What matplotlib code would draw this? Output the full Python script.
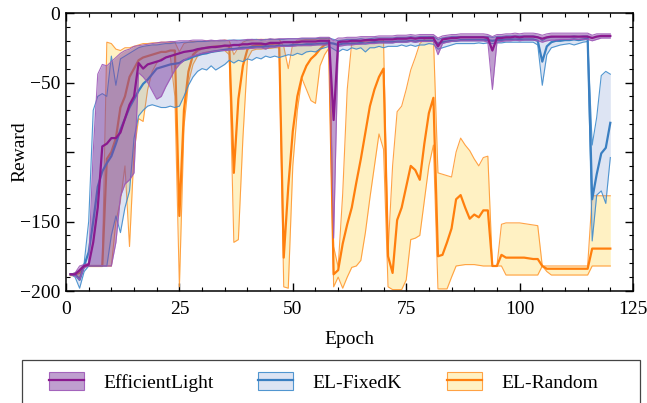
import numpy as np
import matplotlib
matplotlib.use("Agg")
import matplotlib.pyplot as plt
from matplotlib.patches import Patch, Rectangle
from matplotlib.lines import Line2D
from matplotlib.ticker import MultipleLocator, FixedLocator, FixedFormatter

plt.rcParams['font.family'] = ['Liberation Serif', 'DejaVu Serif']
plt.rcParams['font.size'] = 14

epochs = list(range(1, 121))

el_mean = [-188, -188, -185, -182, -181, -165, -140, -96, -94, -90,
           -90, -86, -76, -66, -60, -36, -40, -37, -36, -35,
           -34, -32, -31, -30, -29, -28, -27.5, -27, -26, -25.5,
           -25, -24.5, -24.5, -24, -23.5, -23.5, -23, -23, -22.5, -22.5,
           -22, -22, -22, -22.5, -21.5, -21.5, -21.5, -21, -21, -21,
           -21, -20.5, -20.5, -20.5, -20.5, -20, -20, -20, -77, -21,
           -20.5, -20.5, -20, -20, -20, -19.5, -19.5, -19.5, -19, -19,
           -19, -19, -18.5, -18.5, -18.5, -18, -18.5, -18, -18, -18,
           -18, -24, -19, -18.5, -18, -18, -17.5, -17.5, -17.5, -17.5,
           -17.5, -17.5, -18, -27, -18, -18, -17.5, -17.5, -17, -17.5,
           -17, -17, -17, -17.5, -18.5, -17.5, -17, -17, -17, -17,
           -17, -17, -17, -17, -17, -18, -17, -16.5, -16.5, -16.5]
el_lo = [-188, -189, -192, -183, -182, -182, -182, -182, -182, -182,
         -165, -132, -123, -120, -115, -43, -46, -50, -56, -62,
         -60, -53, -47, -41, -37, -34, -32, -31, -30, -29,
         -28.5, -28, -27.5, -27, -27, -26.5, -26.5, -26, -26, -25.5,
         -25.5, -25, -25, -26, -24.5, -24.5, -24, -24, -24, -24,
         -23.5, -23.5, -23.5, -23.5, -23, -23, -23, -23, -162, -24,
         -23.5, -23, -23, -22.5, -22.5, -22, -22, -22, -21.5, -21.5,
         -21.5, -21.5, -21, -21, -21, -20.5, -21, -20.5, -20.5, -20.5,
         -20.5, -30, -22, -21, -20.5, -20, -20, -20, -20, -20,
         -20, -20, -21, -55, -21, -20.5, -20, -20, -19.5, -20,
         -19.5, -19.5, -19.5, -20, -21, -20, -19.5, -19.5, -19, -19,
         -19, -19, -19, -19, -19, -20, -19, -18, -18, -18]
el_hi = [-188, -187, -182, -181, -180, -100, -44, -37, -38, -35,
         -32, -29, -27, -26, -24, -23.5, -23, -22.5, -22, -21.5,
         -21, -21, -20.5, -20.5, -20, -20, -20, -19.5, -19.5, -19.5,
         -20, -19.5, -20, -19.5, -19.5, -20, -19.5, -20, -19.5, -19,
         -19, -19.5, -19, -19.5, -18.5, -19, -18.5, -18.5, -18.5, -18.5,
         -18.5, -18, -18, -18, -18, -17.5, -17.5, -17.5, -20, -18,
         -18, -17.5, -17.5, -17.5, -17, -17, -17, -17, -16.5, -16.5,
         -16.5, -16.5, -16, -16, -16, -15.5, -16, -15.5, -15.5, -15.5,
         -15.5, -18, -16.5, -16, -15.5, -15.5, -15, -15, -15, -15,
         -15, -15, -15.5, -17, -15.5, -15.5, -15, -15, -14.5, -15,
         -14.5, -14.5, -14.5, -15, -16, -15, -14.5, -14.5, -14.5, -14.5,
         -14.5, -14.5, -14.5, -14.5, -14.5, -16, -15, -15, -15, -15]

fk_mean = [-188, -188, -192, -182, -172, -150, -125, -114, -108, -103,
           -94, -84, -76, -68, -62, -56, -51, -48, -44, -40,
           -39, -38, -37, -36.5, -36, -34, -33, -31.5, -30.5, -29.5,
           -29, -28, -27.5, -27, -26.5, -26, -26, -25.5, -25, -25,
           -24.5, -24.5, -24.5, -24, -24, -24, -23.5, -23.5, -23.5, -23,
           -23, -23, -22.5, -22.5, -22.5, -22, -22, -21.5, -22, -23,
           -22, -22, -22, -22, -21.5, -22, -21.5, -21, -21, -21,
           -21, -21, -20.5, -20.5, -20.5, -20, -20.5, -20, -20, -20,
           -20, -22, -21, -20.5, -20, -20, -19.5, -19.5, -19.5, -19.5,
           -19.5, -19.5, -19.5, -20, -19.5, -19.5, -19, -19, -19, -19,
           -19, -19, -19, -20, -35, -24, -21, -20, -20, -19.5,
           -19.5, -19, -19.5, -19, -18.5, -134, -116, -101, -97, -79]
fk_lo = [-188, -190, -198, -186, -182, -182, -182, -182, -182, -160,
         -146, -158, -140, -128, -90, -74, -70, -67, -66, -67,
         -68, -68, -67, -68, -67, -60, -52, -46, -42, -40,
         -41, -38, -41, -39, -37, -34, -36, -34, -35, -33,
         -34, -32, -33, -31, -32, -31, -32, -31, -30, -30.5,
         -29, -30, -28, -27.5, -28, -26, -25, -24, -26, -28,
         -26, -27, -25, -26, -25, -28, -25, -25, -24, -25,
         -24, -24, -24, -23, -24, -23, -24, -23, -23, -22,
         -22.5, -26, -25, -24, -23, -22, -22, -22, -22, -22,
         -21.5, -22, -21.5, -22, -21.5, -21.5, -21, -21, -21, -21,
         -21, -21, -21, -23, -52, -30, -25, -24, -23, -22.5,
         -22, -23, -22, -21, -20.5, -164, -131, -128, -137, -104]
fk_hi = [-188, -187, -186, -180, -150, -70, -60, -58, -60, -31,
         -52, -33, -31, -29, -27, -25, -24, -23.5, -23, -23,
         -22.5, -22, -22, -21.5, -21.5, -21, -21, -21, -20.5, -20.5,
         -20.5, -20, -20, -20, -20, -19.5, -19.5, -19.5, -19.5, -19.5,
         -19, -19, -19.5, -19, -19, -19, -19, -19, -18.5, -18.5,
         -18.5, -18.5, -18.5, -18.5, -18.5, -18, -18, -18, -19, -20,
         -19.5, -19, -19, -19, -18.5, -19, -18.5, -18, -18, -18,
         -18, -18, -17.5, -17.5, -17.5, -17, -17.5, -17, -17, -17,
         -17, -19, -18, -17.5, -17, -17, -17, -17, -17, -17,
         -17, -17, -17, -17.5, -17, -17, -16.5, -16.5, -16.5, -16.5,
         -16.5, -16.5, -16.5, -17, -20, -18, -17.5, -17, -17, -17,
         -17, -16.5, -17, -16.5, -16.5, -95, -75, -45, -42, -44]

rd_mean = [-188, -188, -187, -182, -182, -182, -182, -182, -105, -100,
           -90, -68, -60, -46, -40, -34, -32, -31, -30, -29,
           -28, -28, -27, -27, -146, -70, -42, -30, -27, -25.5,
           -25, -24.5, -24, -24, -23.5, -24, -115, -62, -38, -26,
           -24, -23, -23, -22.5, -22.5, -22, -22, -176, -125, -85,
           -60, -46, -38, -33, -30, -26, -23, -21, -188, -185,
           -166, -152, -140, -122, -105, -86, -67, -55, -46, -40,
           -175, -187, -149, -140, -125, -110, -113, -120, -94, -72,
           -61, -175, -174, -165, -155, -134, -131, -140, -148, -145,
           -147, -142, -142, -182, -182, -174, -176, -176, -176, -176,
           -176, -176.5, -177, -177, -182, -184, -184, -184, -184, -184,
           -184, -184, -184, -184, -184, -169.5, -169.5, -169.5, -169.5, -169.5]
rd_lo = [-189, -189, -190, -183, -182, -182, -182, -182, -182, -182,
         -150, -135, -110, -168, -100, -76, -78, -55, -42, -36,
         -33, -32, -31, -60, -197, -82, -50, -37, -31, -29,
         -28, -28, -27.5, -27, -27, -30, -165, -163, -90, -33,
         -27, -26, -26, -25.5, -25.5, -25, -25, -197, -198, -110,
         -70, -47, -55, -63, -65, -38, -30, -25, -197, -190,
         -198, -190, -183, -182, -178, -158, -133, -110, -87, -98,
         -197, -199, -199, -199, -192, -163, -162, -160, -135, -110,
         -95, -198.5, -198.5, -198.5, -190, -182, -181.5, -181, -181, -181,
         -181.5, -182, -182, -182, -182, -182, -188.5, -188.5, -188.5, -188.5,
         -188.5, -188.5, -188.5, -188.5, -182, -186, -188.5, -188.5, -188.5, -188.5,
         -188.5, -188.5, -188.5, -188.5, -188.5, -182, -182, -182, -182, -182]
rd_hi = [-188, -187, -185, -182, -182, -182, -182, -182, -21, -22,
         -26, -27, -25, -25, -24, -23, -22, -22, -21.5, -21.5,
         -21, -21, -21, -21, -28, -22, -21, -20.5, -20.5, -20.5,
         -20, -20, -20, -20, -19.5, -20, -30, -25, -21, -19.5,
         -19.5, -19, -19, -19, -19, -19, -19, -24, -40, -22,
         -19.5, -19.5, -19, -19, -19, -18.5, -18.5, -18, -168, -183,
         -130, -55, -21, -21, -20.5, -20.5, -20, -20, -19.5, -19.5,
         -172, -110, -71, -67, -55, -41, -32, -22, -19, -17,
         -17, -115, -116, -117, -118, -100, -90, -95, -99, -105,
         -110, -104, -103, -182, -182, -152, -151, -151, -151, -151,
         -151.5, -152, -152.5, -153, -182, -182, -182, -182, -182, -182,
         -182, -182, -182, -182, -182, -131.5, -131.5, -131.5, -131.5, -131.5]

names = ['EfficientLight', 'EL-FixedK', 'EL-Random']
line_colors = ['#8a1a8f', '#3a7fc1', '#ff7f0e']
fill_colors = [(0.50, 0.25, 0.63, 0.50), (0.40, 0.52, 0.80, 0.22), (1.0, 0.80, 0.10, 0.26)]
edge_colors = [(0.62, 0.35, 0.72, 0.9), (0.25, 0.55, 0.80, 0.9), (1.0, 0.60, 0.20, 0.9)]

W, H = 647, 403
fig = plt.figure(figsize=(W/100, H/100), dpi=100)
ax = fig.add_axes([66/W, 1-291/H, 567/W, 278/H])

series = [(el_mean, el_lo, el_hi), (fk_mean, fk_lo, fk_hi), (rd_mean, rd_lo, rd_hi)]
x = np.array(epochs)
# draw EL-Random first, then EL-FixedK, then EfficientLight on top
for rank, i in enumerate([2, 1, 0]):
    m, lo, hi = series[i]
    z = 2 + rank * 3
    ax.fill_between(x, lo, hi, color=fill_colors[i], linewidth=0, zorder=z)
    ax.plot(x, lo, color=edge_colors[i], lw=0.8, zorder=z + 0.5)
    ax.plot(x, hi, color=edge_colors[i], lw=0.8, zorder=z + 0.5)
    ax.plot(x, m, color=line_colors[i], lw=1.6, zorder=z + 1)

ax.set_xlim(0, 125)
ax.set_ylim(-200, 0)
ax.xaxis.set_major_locator(MultipleLocator(25))
ax.xaxis.set_minor_locator(MultipleLocator(5))
yt = [0, -50, -100, -150, -200]
ax.yaxis.set_major_locator(FixedLocator(yt))
ax.yaxis.set_major_formatter(FixedFormatter(['0', '\u221250', '', '\u2212150', '\u2212200']))
ax.yaxis.set_minor_locator(MultipleLocator(10))
ax.tick_params(which='both', direction='in', top=True, right=True, labelsize=14)
ax.tick_params(which='major', length=5.5, width=1)
ax.tick_params(which='minor', length=3, width=0.8)
ax.tick_params(axis='x', which='major', pad=7)
ax.tick_params(axis='y', which='major', pad=4)
for s in ax.spines.values():
    s.set_linewidth(1.1)
ax.set_xlabel('Epoch', fontsize=14)
ax.set_ylabel('Reward', fontsize=14)
ax.xaxis.set_label_coords(0.5, -(331 - 291) / 278)
ax.yaxis.set_label_coords(-(66 - 28) / 567, 0.5)

# legend frame (extends below the figure edge, as in the reference)
frame = Rectangle((22/W, -20/H), 618/W, (403 - 360 + 20)/H, transform=fig.transFigure,
                  facecolor='white', edgecolor='#444444', linewidth=0.9, zorder=0)
fig.patches.append(frame)

handles = []
for i in range(3):
    p = Patch(facecolor=fill_colors[i], edgecolor=edge_colors[i], linewidth=0.8)
    l = Line2D([], [], color=line_colors[i], lw=1.6)
    handles.append((p, l))
leg = fig.legend(handles, names, loc='center', ncol=3,
                 bbox_to_anchor=(323.5/W, 1 - 382/H),
                 bbox_transform=fig.transFigure, frameon=False,
                 fontsize=14, handlelength=1.8, handleheight=1.0,
                 handletextpad=1.0, columnspacing=2.3, borderpad=0)

fig.savefig('out.png', dpi=100)
